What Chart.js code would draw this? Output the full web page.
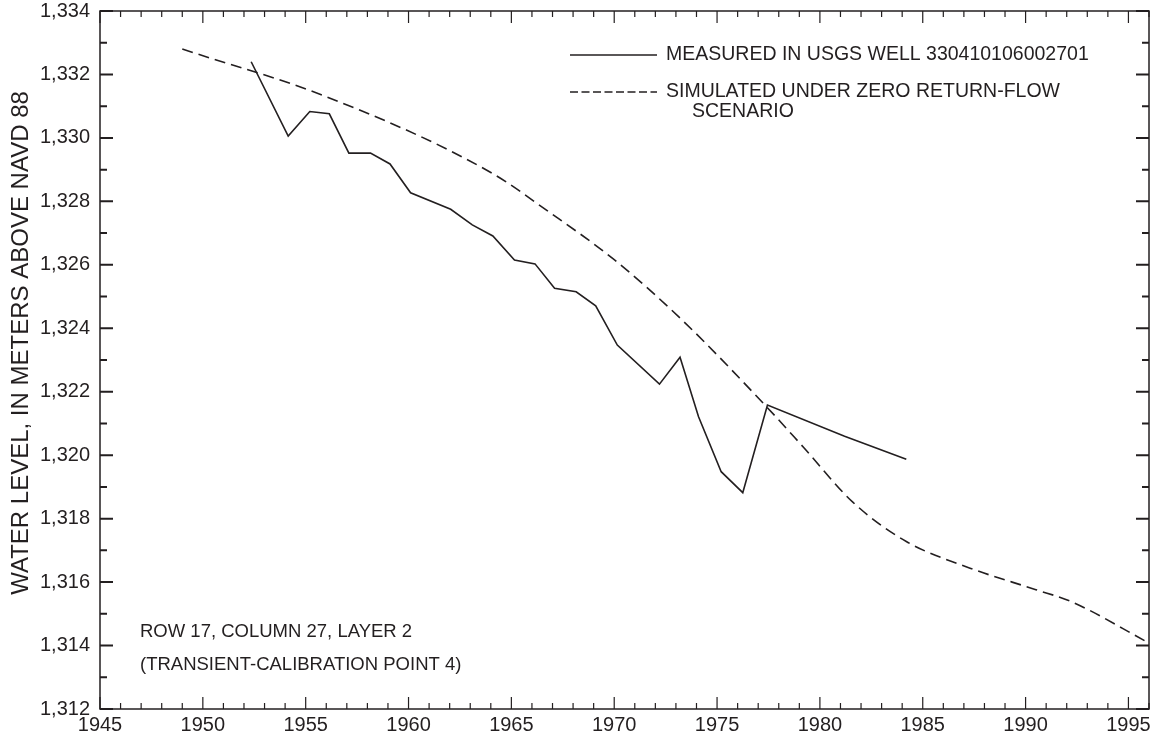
<!DOCTYPE html>
<html>
<head>
<meta charset="utf-8">
<title>Water level, row 17 column 27 layer 2</title>
<script src="https://cdn.jsdelivr.net/npm/chart.js@4/dist/chart.umd.min.js"></script>
<style>
  html, body { margin: 0; padding: 0; background: #fff; }
  #wrap { width: 1157px; height: 746px; }
</style>
</head>
<body>
<div id="wrap"><canvas id="chart" width="1157" height="746"></canvas></div>
<script>
// --- data ---------------------------------------------------------------
// measured heads, USGS well 330410106002701
const measuredYears  = [1952.35, 1954.15, 1955.2, 1956.15, 1957.1, 1958.15, 1959.1, 1960.1,
                        1962.05, 1963.1, 1964.1, 1965.15, 1966.15, 1967.1, 1968.15, 1969.1,
                        1970.15, 1972.2, 1973.2, 1974.1, 1975.2, 1976.25, 1977.45, 1981.2, 1984.2];
const measuredLevels = [1332.40, 1330.06, 1330.83, 1330.76, 1329.52, 1329.52, 1329.18, 1328.27,
                        1327.75, 1327.26, 1326.91, 1326.15, 1326.03, 1325.26, 1325.15, 1324.71,
                        1323.47, 1322.24, 1323.09, 1321.21, 1319.48, 1318.82, 1321.58, 1320.60, 1319.87];

// model heads, zero return-flow scenario
const simulatedYears  = [1949.0, 1956.0, 1964.0, 1966.8, 1970.0, 1973.3, 1977.4, 1979.2,
                         1981.6, 1984.2, 1987.3, 1990.5, 1992.2, 1996.0];
const simulatedLevels = [1332.80, 1331.30, 1328.91, 1327.68, 1326.16, 1324.26, 1321.53, 1320.25,
                         1318.52, 1317.28, 1316.44, 1315.76, 1315.39, 1314.08];

const xMin = 1945, xMax = 1996, xLabelEvery = 5;
const yMin = 1312, yMax = 1334, yLabelEvery = 2;

const legendMeasured  = ['MEASURED IN USGS WELL 330410106002701'];
const legendSimulated = ['SIMULATED UNDER ZERO RETURN-FLOW', 'SCENARIO'];
const noteLines = ['ROW 17, COLUMN 27, LAYER 2', '(TRANSIENT-CALIBRATION POINT 4)'];
const yTitle = 'WATER LEVEL, IN METERS ABOVE NAVD 88';

// --- style ------------------------------------------------------------
const INK = '#231f20';
const FONT = "'Liberation Sans', Arial, Helvetica, sans-serif";
const LINE_DASH = [11, 6];

Chart.defaults.font.family = FONT;
Chart.defaults.color = INK;

const toPoints = (xs, ys) => xs.map((x, i) => ({ x: x, y: ys[i] }));

function yearTicks() {
  const t = [];
  for (let v = xMin; v <= xMax; v++) t.push({ value: v });
  return t;
}
function levelTicks() {
  const t = [];
  for (let v = yMin; v <= yMax; v++) t.push({ value: v });
  return t;
}

// frame, inward tick marks, legend, notes and the axis title
const decorPlugin = {
  id: 'decor',
  afterDatasetsDraw(chart) {
    const { ctx, chartArea: a, scales } = chart;
    const x = scales.x, y = scales.y;
    ctx.save();
    ctx.strokeStyle = INK;
    ctx.fillStyle = INK;

    // x ticks on bottom and top
    ctx.lineWidth = 1.2;
    x.ticks.forEach(t => {
      const px = x.getPixelForValue(t.value);
      const len = t.value % xLabelEvery === 0 ? 12 : 6;
      ctx.beginPath();
      ctx.moveTo(px, a.bottom); ctx.lineTo(px, a.bottom - len);
      ctx.moveTo(px, a.top);    ctx.lineTo(px, a.top + len);
      ctx.stroke();
    });

    // y ticks on left and right
    ctx.lineWidth = 2;
    y.ticks.forEach(t => {
      const py = y.getPixelForValue(t.value);
      const len = t.value % yLabelEvery === 0 ? 13 : 7;
      ctx.beginPath();
      ctx.moveTo(a.left, py);  ctx.lineTo(a.left + len, py);
      ctx.moveTo(a.right, py); ctx.lineTo(a.right - len, py);
      ctx.stroke();
    });

    // frame
    ctx.lineWidth = 1.5;
    ctx.strokeRect(a.left, a.top, a.right - a.left, a.bottom - a.top);

    // legend
    ctx.font = '19.5px ' + FONT;
    ctx.textBaseline = 'middle';
    ctx.textAlign = 'left';
    ctx.lineWidth = 1.6;
    ctx.beginPath();
    ctx.moveTo(570, 55); ctx.lineTo(657, 55);
    ctx.stroke();
    ctx.fillText(legendMeasured[0], 666, 55);

    ctx.setLineDash([8, 3.5]);
    ctx.beginPath();
    ctx.moveTo(570, 92); ctx.lineTo(657, 92);
    ctx.stroke();
    ctx.setLineDash([]);
    ctx.fillText(legendSimulated[0], 666, 92);
    ctx.fillText(legendSimulated[1], 692, 112);

    // location notes
    ctx.font = '18.5px ' + FONT;
    ctx.fillText(noteLines[0], 140, 632);
    ctx.fillText(noteLines[1], 140, 665);

    // y axis title
    ctx.translate(21, 343);
    ctx.rotate(-Math.PI / 2);
    ctx.textAlign = 'center';
    ctx.font = '24px ' + FONT;
    ctx.fillText(yTitle, 0, 0);

    ctx.restore();
  }
};

new Chart(document.getElementById('chart'), {
  type: 'line',
  data: {
    datasets: [
      {
        label: legendMeasured[0],
        data: toPoints(measuredYears, measuredLevels),
        borderColor: INK,
        borderWidth: 1.6,
        pointRadius: 0,
        tension: 0,
        fill: false
      },
      {
        label: legendSimulated.join(' '),
        data: toPoints(simulatedYears, simulatedLevels),
        borderColor: INK,
        borderWidth: 1.6,
        borderDash: LINE_DASH,
        pointRadius: 0,
        cubicInterpolationMode: 'monotone',
        fill: false
      }
    ]
  },
  options: {
    responsive: false,
    animation: false,
    devicePixelRatio: 1,
    layout: { padding: { top: 11, right: 8, left: 0, bottom: 0 } },
    plugins: {
      legend: { display: false },
      tooltip: { enabled: false }
    },
    scales: {
      x: {
        type: 'linear',
        min: xMin,
        max: xMax,
        afterBuildTicks: s => { s.ticks = yearTicks(); },
        afterFit: s => { s.height = 37; },
        grid: { display: false, tickLength: 0 },
        border: { display: false },
        ticks: {
          autoSkip: false,
          maxRotation: 0,
          padding: 6,
          color: INK,
          font: { size: 20, lineHeight: 1 },
          callback: v => (v % xLabelEvery === 0 ? String(v) : '')
        }
      },
      y: {
        type: 'linear',
        min: yMin,
        max: yMax,
        afterBuildTicks: s => { s.ticks = levelTicks(); },
        // the end labels may hang past the frame; keep the plot box fixed
        afterFit: s => { s.width = 100; s.paddingTop = 0; s.paddingBottom = 0; },
        grid: { display: false, tickLength: 0 },
        border: { display: false },
        ticks: {
          autoSkip: false,
          padding: 10,
          color: INK,
          font: { size: 20, lineHeight: 1 },
          callback: v => (v % yLabelEvery === 0 ? v.toLocaleString('en-US') : '')
        }
      }
    }
  },
  plugins: [decorPlugin]
});
</script>
</body>
</html>
